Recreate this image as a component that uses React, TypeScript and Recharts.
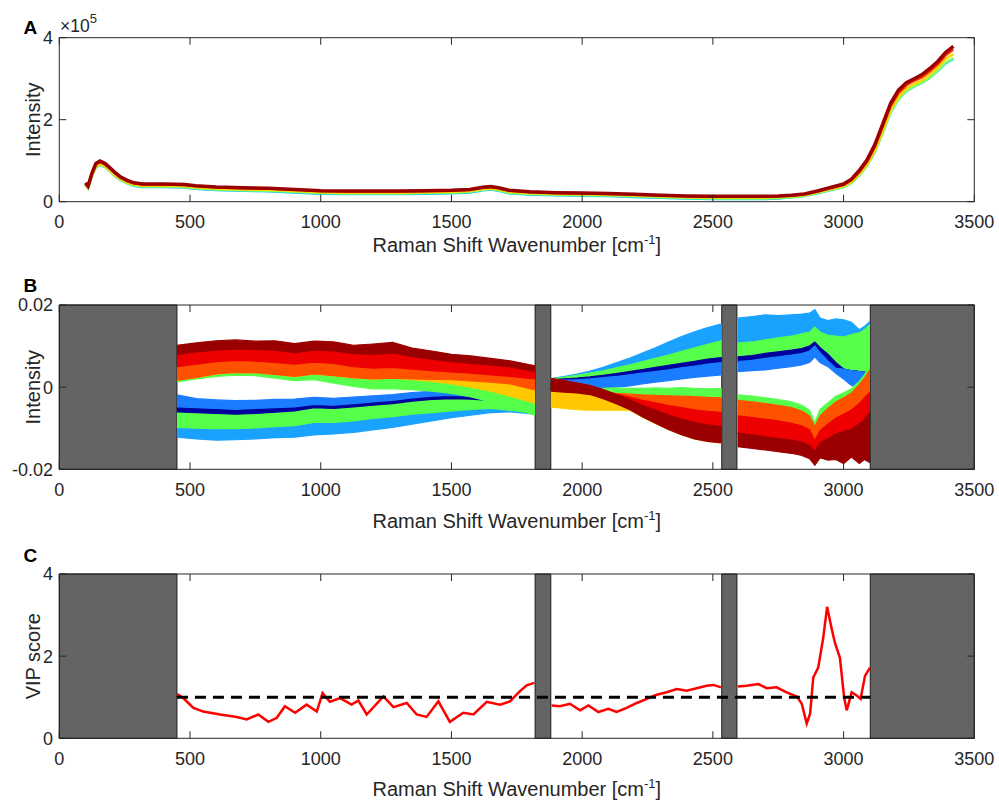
import { ComposedChart, Line, Area, XAxis, YAxis, ReferenceArea, ReferenceLine } from 'recharts'

const INK = '#262626'
const FONT = '"Liberation Sans", Arial, Helvetica, sans-serif'
const GREY = '#646464'

const xTicks = [0, 500, 1000, 1500, 2000, 2500, 3000, 3500]
const aTicks = [0, 2, 4] // x10^5
const bTicks = [-20, 0, 20] // x10^-3
const cTicks = [0, 2, 4]
const vipThreshold = 1

// wavenumber ranges that were cut out (grey)
const masked = [
  [0, 450],
  [1820, 1880],
  [2534, 2592],
  [3102, 3500],
]

// ---- A: raw spectra (x10^5)
const xA = [100, 110, 125, 140, 156, 175, 195, 215, 235, 260, 285, 320, 400, 480, 520, 600, 700, 800, 900, 1000, 1100, 1200, 1300, 1400, 1500, 1570, 1620, 1650, 1680, 1720, 1800, 1900, 2000, 2100, 2200, 2300, 2400, 2500, 2600, 2700, 2750, 2800, 2850, 2900, 2950, 3000, 3030, 3060, 3090, 3120, 3150, 3180, 3210, 3240, 3270, 3300, 3330, 3360, 3390, 3420]
const darkRedA = [0.46, 0.38, 0.7, 0.93, 0.99, 0.93, 0.82, 0.7, 0.6, 0.52, 0.46, 0.43, 0.43, 0.42, 0.39, 0.36, 0.34, 0.33, 0.3, 0.27, 0.26, 0.26, 0.26, 0.27, 0.28, 0.3, 0.35, 0.37, 0.34, 0.28, 0.24, 0.22, 0.21, 0.2, 0.18, 0.16, 0.14, 0.13, 0.13, 0.13, 0.14, 0.16, 0.19, 0.26, 0.35, 0.43, 0.55, 0.76, 1.02, 1.4, 1.9, 2.4, 2.72, 2.9, 3.0, 3.1, 3.25, 3.42, 3.64, 3.79]
const redA = [0.45, 0.37, 0.68, 0.91, 0.97, 0.91, 0.8, 0.68, 0.58, 0.5, 0.45, 0.42, 0.42, 0.41, 0.38, 0.35, 0.33, 0.32, 0.29, 0.26, 0.25, 0.25, 0.25, 0.26, 0.27, 0.29, 0.34, 0.36, 0.33, 0.27, 0.23, 0.21, 0.2, 0.19, 0.17, 0.15, 0.13, 0.12, 0.12, 0.12, 0.13, 0.15, 0.18, 0.25, 0.33, 0.41, 0.52, 0.72, 0.97, 1.34, 1.83, 2.33, 2.65, 2.84, 2.95, 3.04, 3.18, 3.35, 3.57, 3.71]
const yellowA = [0.42, 0.34, 0.64, 0.86, 0.92, 0.87, 0.76, 0.64, 0.55, 0.47, 0.42, 0.39, 0.39, 0.38, 0.35, 0.32, 0.3, 0.29, 0.26, 0.23, 0.22, 0.22, 0.22, 0.23, 0.24, 0.26, 0.31, 0.33, 0.3, 0.24, 0.21, 0.19, 0.18, 0.17, 0.15, 0.13, 0.11, 0.1, 0.1, 0.1, 0.11, 0.13, 0.16, 0.23, 0.31, 0.38, 0.48, 0.67, 0.91, 1.26, 1.74, 2.24, 2.56, 2.76, 2.87, 2.96, 3.1, 3.27, 3.48, 3.6]
const greenA = [0.41, 0.33, 0.62, 0.84, 0.9, 0.85, 0.74, 0.62, 0.53, 0.45, 0.4, 0.37, 0.37, 0.36, 0.33, 0.3, 0.28, 0.27, 0.24, 0.21, 0.2, 0.2, 0.2, 0.21, 0.22, 0.24, 0.29, 0.31, 0.28, 0.22, 0.19, 0.17, 0.16, 0.15, 0.13, 0.11, 0.09, 0.08, 0.08, 0.08, 0.09, 0.11, 0.14, 0.21, 0.29, 0.36, 0.46, 0.64, 0.88, 1.22, 1.69, 2.18, 2.5, 2.7, 2.81, 2.9, 3.03, 3.2, 3.39, 3.5]
const cyanA = [0.4, 0.32, 0.61, 0.83, 0.89, 0.84, 0.73, 0.61, 0.52, 0.44, 0.38, 0.35, 0.35, 0.34, 0.31, 0.28, 0.26, 0.25, 0.22, 0.19, 0.18, 0.18, 0.18, 0.19, 0.2, 0.22, 0.27, 0.29, 0.26, 0.2, 0.17, 0.15, 0.14, 0.13, 0.11, 0.09, 0.07, 0.06, 0.06, 0.06, 0.07, 0.1, 0.13, 0.2, 0.28, 0.35, 0.45, 0.63, 0.87, 1.21, 1.68, 2.17, 2.49, 2.69, 2.8, 2.89, 3.02, 3.18, 3.37, 3.48]

// ---- B: preprocessed spectra, envelope edges per colour group (x10^-3)
const s1X = [450, 525, 600, 675, 750, 825, 900, 975, 1050, 1125, 1200, 1275, 1350, 1425, 1500, 1575, 1650, 1725, 1820]
const s1RedTop = [10.2, 10.8, 11.3, 11.5, 11.2, 11.3, 10.6, 11.2, 11.0, 10.2, 10.5, 10.9, 9.5, 8.8, 8.0, 7.6, 7.0, 6.4, 5.2]
const s1RedA = [8.0, 8.6, 9.0, 9.3, 9.2, 9.0, 8.4, 9.0, 8.8, 8.2, 8.0, 8.3, 7.4, 6.8, 6.2, 5.8, 5.4, 4.9, 3.8]
const s1RedB = [5.0, 5.6, 6.2, 6.5, 6.3, 6.0, 5.6, 6.1, 5.8, 5.0, 4.6, 4.8, 4.4, 4.0, 3.7, 3.4, 3.0, 2.6, 2.0]
const s1RedC = [1.7, 2.4, 3.2, 3.6, 3.5, 3.1, 2.6, 3.2, 2.8, 2.3, 2.0, 2.2, 2.0, 1.9, 1.8, 1.5, 1.2, 0.8, -0.7]
const s1RedD = [1.7, 2.4, 3.2, 3.6, 3.5, 3.1, 2.6, 3.2, 2.8, 2.3, 2.0, 2.2, 1.8, 1.4, 0.8, 0.0, -1.0, -2.2, -3.9]
const s1RedBottom = [1.3, 2.0, 2.6, 2.9, 2.8, 2.2, 1.6, 1.8, 1.0, 0.2, -0.4, -0.4, -0.6, -1.0, -1.5, -2.4, -3.6, -5.0, -6.8]
const s1BlueTop = [-1.9, -2.8, -3.1, -3.3, -3.2, -3.0, -2.9, -2.5, -2.7, -2.4, -2.1, -1.8, -1.3, -1.0, -0.9, -1.0, -1.6, -2.4, -3.2]
const s1BlueA = [-4.8, -5.0, -5.2, -5.4, -5.2, -5.0, -4.8, -4.2, -4.4, -4.0, -3.6, -3.2, -2.6, -2.2, -2.0, -2.2, -2.6, -3.2, -3.8]
const s1BlueB = [-6.0, -6.2, -6.4, -6.6, -6.4, -6.1, -5.8, -5.0, -5.2, -4.8, -4.4, -4.0, -3.4, -3.0, -2.8, -2.9, -3.2, -3.6, -4.2]
const s1BlueC = [-9.8, -10.0, -10.1, -10.1, -9.9, -9.6, -9.4, -8.6, -8.6, -8.2, -7.6, -7.2, -6.6, -6.2, -5.8, -5.4, -5.2, -5.6, -6.4]
const s1BlueBottom = [-12.2, -12.6, -12.9, -12.8, -12.6, -12.3, -12.2, -11.6, -11.4, -11.0, -10.4, -9.8, -9.0, -8.2, -7.4, -6.8, -6.2, -6.0, -6.6]

const s2X = [1880, 1930, 1980, 2030, 2080, 2130, 2180, 2230, 2280, 2330, 2380, 2430, 2480, 2534]
const s2BlueTop = [2.1, 2.6, 3.2, 3.9, 4.8, 5.9, 7.0, 8.3, 9.6, 11.0, 12.3, 13.5, 14.5, 15.4]
const s2BlueA = [2.0, 2.4, 2.9, 3.4, 4.0, 4.7, 5.4, 6.2, 7.0, 7.8, 8.7, 9.6, 10.4, 11.3]
const s2BlueB = [1.8, 2.0, 2.2, 2.5, 2.9, 3.3, 3.8, 4.3, 4.8, 5.3, 5.8, 6.3, 6.8, 7.2]
const s2BlueC = [1.6, 1.7, 1.8, 2.0, 2.3, 2.6, 3.0, 3.4, 3.8, 4.2, 4.7, 5.1, 5.6, 6.0]
const s2BlueBottom = [1.4, 1.0, 0.5, 0.0, -0.2, 0.0, 0.3, 0.8, 1.2, 1.6, 2.0, 2.4, 2.7, 3.0]
const s2GreenTop = [2.1, 1.0, 0.0, -0.4, -0.3, -0.2, -0.3, -0.3, -0.2, -0.3, -0.1, -0.3, -0.4, -0.3]
const s2GreenBot = [2.1, 0.8, -0.2, -0.8, -1.2, -1.5, -1.7, -1.9, -2.0, -2.1, -2.2, -2.3, -2.5, -2.6]
const s2Mid = [2.1, 0.9, -0.1, -0.6, -1.0, -1.7, -2.4, -3.2, -3.8, -4.5, -5.0, -5.5, -5.9, -6.2]
const s2DrTop = [2.1, 1.6, 1.0, 0.4, -0.6, -1.8, -3.0, -4.4, -5.6, -6.8, -7.8, -8.6, -9.2, -9.6]
const s2DrBot = [-1.0, -1.2, -1.4, -1.8, -2.8, -4.0, -5.4, -7.2, -8.8, -10.3, -11.6, -12.6, -13.2, -13.6]
const s2YellowBot = [-4.8, -5.2, -5.5, -5.6, -5.6, -5.6, -5.6, -7.2, -8.8, -10.3, -11.6, -12.6, -13.2, -13.6]

const s3X = [2595, 2650, 2700, 2750, 2800, 2840, 2870, 2890, 2910, 2940, 2970, 3000, 3030, 3060, 3080, 3101]
const s3BlueTop = [16.8, 17.2, 17.6, 17.4, 17.6, 17.8, 18.0, 18.9, 16.8, 16.2, 16.6, 16.4, 15.8, 14.0, 14.8, 16.0]
const s3BlueA = [10.7, 11.0, 11.5, 12.0, 12.4, 13.0, 13.4, 14.6, 13.4, 12.6, 12.4, 12.2, 12.8, 13.2, 14.0, 15.2]
const s3BlueB = [7.4, 7.7, 8.2, 8.6, 9.0, 9.4, 10.0, 11.0, 9.6, 8.0, 6.0, 4.4, 4.0, 3.8, 3.6, 3.6]
const s3BlueC = [6.2, 6.5, 7.0, 7.4, 7.8, 8.2, 8.8, 10.0, 8.4, 6.4, 4.6, 4.4, 4.0, 3.8, 3.6, 3.6]
const s3BlueBottom = [3.8, 4.0, 4.2, 4.6, 5.0, 5.4, 6.0, 7.4, 6.0, 5.0, 3.4, 2.0, 0.4, 0.0, 1.4, 3.0]
const s3GreenTop = [-1.9, -2.2, -2.6, -3.0, -3.6, -4.4, -5.6, -8.6, -5.4, -3.8, -2.2, -1.4, -0.4, 1.4, 3.0, 5.0]
const s3GreenBot = [-3.2, -3.6, -4.0, -4.4, -5.0, -5.8, -7.0, -9.6, -7.0, -5.2, -3.6, -2.6, -1.4, 0.6, 2.2, 4.2]
const s3Mid = [-7.0, -7.4, -7.8, -8.2, -8.8, -9.4, -10.4, -13.0, -10.6, -9.0, -7.6, -6.6, -5.6, -4.0, -2.6, -1.2]
const s3DrTop = [-11.2, -11.6, -12.1, -12.5, -12.9, -13.4, -14.2, -15.6, -13.6, -12.6, -11.4, -10.8, -10.2, -9.0, -7.8, -6.0]
const s3Bottom = [-14.5, -14.9, -15.3, -15.7, -16.1, -16.6, -17.4, -19.0, -17.2, -17.8, -17.6, -18.6, -17.0, -18.6, -17.6, -18.4]

// ---- C: VIP scores
const c1X = [451, 474, 513, 551, 615, 679, 717, 761, 800, 832, 863, 902, 946, 985, 1007, 1035, 1074, 1118, 1144, 1176, 1240, 1278, 1329, 1367, 1405, 1450, 1494, 1545, 1584, 1635, 1686, 1724, 1762, 1788, 1817]
const c1V = [1.08, 0.98, 0.74, 0.65, 0.58, 0.52, 0.46, 0.58, 0.4, 0.5, 0.78, 0.62, 0.82, 0.65, 1.1, 0.89, 0.98, 0.82, 0.92, 0.58, 1.02, 0.76, 0.86, 0.58, 0.52, 0.9, 0.4, 0.62, 0.58, 0.89, 0.82, 0.9, 1.15, 1.29, 1.35]
const c2X = [1883, 1915, 1953, 1992, 2024, 2062, 2100, 2132, 2170, 2209, 2247, 2285, 2323, 2362, 2400, 2438, 2476, 2502, 2531]
const c2V = [0.8, 0.78, 0.84, 0.68, 0.8, 0.64, 0.72, 0.64, 0.74, 0.86, 0.96, 1.06, 1.12, 1.2, 1.16, 1.22, 1.28, 1.3, 1.24]
const c3X = [2595, 2629, 2674, 2706, 2744, 2782, 2821, 2840, 2859, 2872, 2884, 2903, 2922, 2937, 2954, 2967, 2986, 3002, 3012, 3031, 3050, 3065, 3082, 3101]
const c3V = [1.26, 1.28, 1.32, 1.22, 1.24, 1.12, 1.02, 0.84, 0.36, 0.6, 1.48, 1.72, 2.44, 3.2, 2.68, 2.32, 1.96, 1.0, 0.68, 1.12, 1.04, 0.96, 1.52, 1.72]

const DR = '#9b0000'
const RD = '#ee0000'
const OR = '#ff5200'
const YE = '#ffc800'
const GR = '#55ff4a'
const BL = '#1a7dff'
const DB = '#00009c'
const LB = '#1aa2ff'

const pts = (xs: number[], ys: number[]) => xs.map((x, i) => ({ x, y: ys[i] }))
const band = (xs: number[], hi: number[], lo: number[]) => xs.map((x, i) => ({ x, v: [lo[i], hi[i]] }))

const bBands: Array<[string, any[]]> = [
  // segment 1
  [LB, band(s1X, s1BlueC, s1BlueBottom)],
  [GR, band(s1X, s1BlueB, s1BlueC)],
  [DB, band(s1X, s1BlueA, s1BlueB)],
  [BL, band(s1X, s1BlueTop, s1BlueA)],
  [GR, band(s1X, s1RedD, s1RedBottom)],
  [YE, band(s1X, s1RedC, s1RedD)],
  [OR, band(s1X, s1RedB, s1RedC)],
  [RD, band(s1X, s1RedA, s1RedB)],
  [DR, band(s1X, s1RedTop, s1RedA)],
  // segment 2
  [LB, band(s2X, s2BlueTop, s2BlueA)],
  [GR, band(s2X, s2BlueA, s2BlueB)],
  [DB, band(s2X, s2BlueB, s2BlueC)],
  [BL, band(s2X, s2BlueC, s2BlueBottom)],
  [GR, band(s2X, s2GreenTop, s2GreenBot)],
  [OR, band(s2X, s2GreenBot, s2Mid)],
  [RD, band(s2X, s2Mid, s2DrTop)],
  [YE, band(s2X, s2DrBot, s2YellowBot)],
  [DR, band(s2X, s2DrTop, s2DrBot)],
  // segment 3
  [LB, band(s3X, s3BlueTop, s3BlueA)],
  [GR, band(s3X, s3BlueA, s3BlueB)],
  [DB, band(s3X, s3BlueB, s3BlueC)],
  [BL, band(s3X, s3BlueC, s3BlueBottom)],
  [GR, band(s3X, s3GreenTop, s3GreenBot)],
  [OR, band(s3X, s3GreenBot, s3Mid)],
  [RD, band(s3X, s3Mid, s3DrTop)],
  [DR, band(s3X, s3DrTop, s3Bottom)],
]

const TICK_LEN = 7
const X_GAP = 14
const Y_GAP = 6.3
const PLOT_RIGHT = 999 - 24.7

// tick label plus MATLAB-style inward tick marks on both sides of the box
function makeXTick(plotTop: number) {
  return (p: any) => {
    const bottom = p.y - X_GAP
    return (
      <g>
        <line x1={p.x} x2={p.x} y1={bottom} y2={bottom - TICK_LEN} stroke={INK} />
        <line x1={p.x} x2={p.x} y1={plotTop} y2={plotTop + TICK_LEN} stroke={INK} />
        <text x={p.x} y={p.y} dy="0.71em" textAnchor="middle" fontSize={18} fill={INK} fontFamily={FONT}>
          {p.payload.value}
        </text>
      </g>
    )
  }
}

function makeYTick(fmt?: (v: number) => string) {
  return (p: any) => {
    const left = p.x + Y_GAP
    const v = p.payload.value
    return (
      <g>
        <line x1={left} x2={left + TICK_LEN} y1={p.y} y2={p.y} stroke={INK} />
        <line x1={PLOT_RIGHT} x2={PLOT_RIGHT - TICK_LEN} y1={p.y} y2={p.y} stroke={INK} />
        <text x={p.x} y={p.y} dy="0.355em" textAnchor="end" fontSize={18} fill={INK} fontFamily={FONT}>
          {fmt ? fmt(v) : v}
        </text>
      </g>
    )
  }
}

function axes(plotTop: number, domain: [number, number], ticks: number[], fmt?: (v: number) => string) {
  const xCommon = { type: 'number' as const, dataKey: 'x', domain: [0, 3500], ticks: xTicks, interval: 0, allowDataOverflow: true, stroke: INK }
  const yCommon = { type: 'number' as const, domain, ticks, interval: 0, allowDataOverflow: true, stroke: INK }
  return [
    <XAxis key="xb" xAxisId="b" {...xCommon} height={30} tickSize={0} tickMargin={X_GAP} tickLine={false} tick={makeXTick(plotTop)} />,
    <XAxis key="xt" xAxisId="t" orientation="top" {...xCommon} mirror height={8} tickLine={false} tick={false} />,
    <YAxis key="yl" yAxisId="l" {...yCommon} width={50} tickSize={0} tickMargin={Y_GAP} tickLine={false} tick={makeYTick(fmt)} />,
    <YAxis key="yr" yAxisId="r" orientation="right" {...yCommon} mirror width={8} tickLine={false} tick={false} />,
  ]
}

function greyBlocks() {
  return masked.map(([a, b], i) => (
    <ReferenceArea key={'m' + i} xAxisId="b" yAxisId="l" x1={a} x2={b} fill={GREY} fillOpacity={1} stroke="#1a1a1a" strokeWidth={1} />
  ))
}

const fmtB = (v: number) => (v === 0 ? '0' : String(v / 1000))

function Labels() {
  const xl = (y: number) => (
    <text x={516.8} y={y} textAnchor="middle" fontSize={20} fill={INK} fontFamily={FONT}>
      Raman Shift Wavenumber [cm<tspan dy={-8} fontSize={13}>-1</tspan>
      <tspan dy={8}>]</tspan>
    </text>
  )
  const yl = (cy: number, s: string) => (
    <text x={40} y={cy} transform={`rotate(-90 40 ${cy})`} textAnchor="middle" fontSize={20} fill={INK} fontFamily={FONT}>
      {s}
    </text>
  )
  const letter = (y: number, s: string) => (
    <text x={23.5} y={y} fontSize={19} fontWeight="bold" fill="#000" fontFamily={FONT}>
      {s}
    </text>
  )
  return (
    <svg width={999} height={805} style={{ position: 'absolute', left: 0, top: 0, pointerEvents: 'none' }}>
      {letter(33.7, 'A')}
      {letter(292, 'B')}
      {letter(562, 'C')}
      <text x={60} y={31.7} fontSize={17.5} fill={INK} fontFamily={FONT}>
        ×10<tspan dy={-9} fontSize={13}>5</tspan>
      </text>
      {yl(119.7, 'Intensity')}
      {yl(387.2, 'Intensity')}
      {yl(656.2, 'VIP score')}
      {xl(252)}
      {xl(528)}
      {xl(796)}
    </svg>
  )
}

export default function App() {
  return (
    <div style={{ position: 'absolute', left: 0, top: 0, width: 999, height: 805, background: '#fff' }}>
      <div style={{ position: 'absolute', left: 0, top: 0 }}>
        <ComposedChart width={999} height={240} margin={{ top: 37.7, right: 24.7, bottom: 8.3, left: 9.3 }}>
          {axes(37.7, [0, 4], aTicks)}
          <Line xAxisId="b" yAxisId="l" data={pts(xA, cyanA)} dataKey="y" stroke="#00c8ff" strokeWidth={2} dot={false} isAnimationActive={false} />
          <Line xAxisId="b" yAxisId="l" data={pts(xA, greenA)} dataKey="y" stroke="#7dff6a" strokeWidth={2.5} dot={false} isAnimationActive={false} />
          <Line xAxisId="b" yAxisId="l" data={pts(xA, yellowA)} dataKey="y" stroke="#ffd400" strokeWidth={2.5} dot={false} isAnimationActive={false} />
          <Line xAxisId="b" yAxisId="l" data={pts(xA, redA)} dataKey="y" stroke="#ff3000" strokeWidth={2.5} dot={false} isAnimationActive={false} />
          <Line xAxisId="b" yAxisId="l" data={pts(xA, darkRedA)} dataKey="y" stroke={DR} strokeWidth={3.5} dot={false} isAnimationActive={false} />
        </ComposedChart>
      </div>
      <div style={{ position: 'absolute', left: 0, top: 270 }}>
        <ComposedChart width={999} height={240} margin={{ top: 35, right: 24.7, bottom: 10.7, left: 9.3 }}>
          {axes(35, [-20, 20], bTicks, fmtB)}
          {greyBlocks()}
          {bBands.map(([c, d], i) => (
            <Area key={'b' + i} xAxisId="b" yAxisId="l" type="linear" data={d} dataKey="v" stroke={c} strokeWidth={1.2} fill={c} fillOpacity={1} dot={false} activeDot={false} isAnimationActive={false} />
          ))}
        </ComposedChart>
      </div>
      <div style={{ position: 'absolute', left: 0, top: 540 }}>
        <ComposedChart width={999} height={240} margin={{ top: 34, right: 24.7, bottom: 11.7, left: 9.3 }}>
          {axes(34, [0, 4], cTicks)}
          {greyBlocks()}
          <Line xAxisId="b" yAxisId="l" data={pts(c1X, c1V)} dataKey="y" stroke="#ff0000" strokeWidth={2.5} dot={false} isAnimationActive={false} />
          <Line xAxisId="b" yAxisId="l" data={pts(c2X, c2V)} dataKey="y" stroke="#ff0000" strokeWidth={2.5} dot={false} isAnimationActive={false} />
          <Line xAxisId="b" yAxisId="l" data={pts(c3X, c3V)} dataKey="y" stroke="#ff0000" strokeWidth={2.5} dot={false} isAnimationActive={false} />
          <ReferenceLine xAxisId="b" yAxisId="l" segment={[{ x: 450, y: vipThreshold }, { x: 3102, y: vipThreshold }]} stroke="#000" strokeWidth={3} strokeDasharray="11 7" />
        </ComposedChart>
      </div>
      <Labels />
    </div>
  )
}
